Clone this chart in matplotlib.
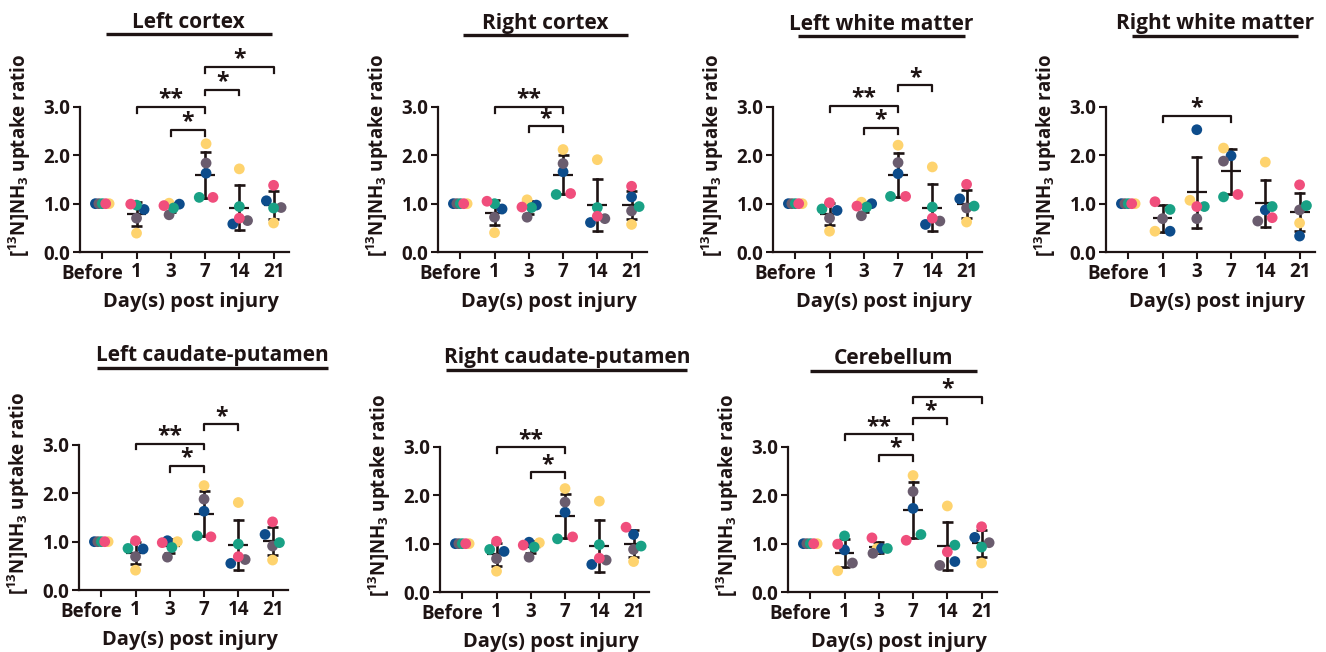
#!/usr/bin/env python3
"""
[13N]NH3 uptake ratio per brain region over days post injury (7 panels).
"""

import matplotlib

matplotlib.use('Agg')
import matplotlib.pyplot as plt
import matplotlib.transforms as mtransforms
import numpy as np

plt.rcParams['font.family'] = ['Open Sans', 'DejaVu Sans']
plt.rcParams['font.weight'] = 'bold'
plt.rcParams['mathtext.fontset'] = 'custom'
plt.rcParams['mathtext.rm'] = 'Open Sans:bold'
plt.rcParams['mathtext.bf'] = 'Open Sans:bold'
plt.rcParams['mathtext.it'] = 'Open Sans:bold'

INK = '#1e1414'

GROUPS = ["Before", "1", "3", "7", "14", "21"]
# one colour per animal: blue, teal, gray, pink, yellow
ANIMAL_COLORS = ["#0d4c8b", "#19a185", "#6a5c6e", "#f04e7c", "#fed36e"]
DRAW_ORDER = [4, 0, 2, 1, 3]

# values per time point, animals in the order blue, teal, gray, pink, yellow
left_cortex = [
    [1.0, 1.0, 1.0, 1.0, 1.0],
    [0.88, 0.97, 0.70, 0.99, 0.39],
    [0.99, 0.91, 0.77, 0.96, 1.01],
    [1.63, 1.13, 1.84, 1.13, 2.24],
    [0.58, 0.94, 0.65, 0.70, 1.72],
    [1.06, 0.91, 0.92, 1.38, 0.60],
]
right_cortex = [
    [1.0, 1.0, 1.0, 1.0, 1.0],
    [0.89, 1.00, 0.72, 1.05, 0.40],
    [0.97, 0.92, 0.72, 0.93, 1.08],
    [1.66, 1.19, 1.83, 1.21, 2.12],
    [0.61, 0.92, 0.69, 0.74, 1.91],
    [1.14, 0.94, 0.85, 1.36, 0.57],
]
left_white = [
    [1.0, 1.0, 1.0, 1.0, 1.0],
    [0.86, 0.89, 0.70, 1.02, 0.43],
    [1.00, 0.93, 0.75, 0.95, 1.03],
    [1.62, 1.15, 1.85, 1.15, 2.21],
    [0.57, 0.93, 0.64, 0.70, 1.76],
    [1.10, 0.95, 0.91, 1.40, 0.62],
]
right_white = [
    [1.0, 1.0, 1.0, 1.0, 1.0],
    [0.43, 0.88, 0.69, 1.04, 0.43],
    [2.53, 0.94, 0.69, 0.94, 1.07],
    [1.99, 1.14, 1.88, 1.19, 2.15],
    [0.87, 0.94, 0.64, 0.71, 1.86],
    [0.33, 0.96, 0.87, 1.39, 0.60],
]
left_caudate = [
    [1.0, 1.0, 1.0, 1.0, 1.0],
    [0.85, 0.86, 0.69, 1.02, 0.41],
    [1.02, 0.88, 0.68, 0.98, 1.00],
    [1.63, 1.12, 1.88, 1.10, 2.16],
    [0.55, 0.95, 0.63, 0.69, 1.81],
    [1.15, 0.98, 0.91, 1.41, 0.62],
]
right_caudate = [
    [1.0, 1.0, 1.0, 1.0, 1.0],
    [0.84, 0.88, 0.69, 1.05, 0.43],
    [1.03, 0.93, 0.72, 0.97, 1.02],
    [1.65, 1.10, 1.86, 1.14, 2.14],
    [0.57, 0.98, 0.66, 0.70, 1.88],
    [1.19, 0.95, 0.88, 1.34, 0.63],
]
cerebellum = [
    [1.0, 1.0, 1.0, 1.0, 1.0],
    [0.87, 1.16, 0.60, 0.99, 0.44],
    [0.90, 0.90, 0.80, 1.12, 0.90],
    [1.73, 1.19, 2.08, 1.07, 2.41],
    [0.63, 0.97, 0.55, 0.83, 1.78],
    [1.13, 0.93, 1.02, 1.35, 0.60],
]

# significance brackets: (group a, group b, label, height)
left_cortex_sig = [(1, 3, "**", 3.0), (2, 3, "*", 2.53), (3, 4, "*", 3.36), (3, 5, "*", 3.83)]
right_cortex_sig = [(1, 3, "**", 3.0), (2, 3, "*", 2.6)]
left_white_sig = [(1, 3, "**", 3.02), (2, 3, "*", 2.57), (3, 4, "*", 3.45)]
right_white_sig = [(1, 3, "*", 2.82)]
left_caudate_sig = [(1, 3, "**", 3.03), (2, 3, "*", 2.57), (3, 4, "*", 3.43)]
right_caudate_sig = [(1, 3, "**", 2.99), (2, 3, "*", 2.48)]
cerebellum_sig = [(1, 3, "**", 3.26), (2, 3, "*", 2.83), (3, 4, "*", 3.59), (3, 5, "*", 4.04)]

# horizontal scatter of each dot (in group widths), same animal order
BEFORE_JIT = [-0.2, 0.0, -0.1, 0.1, 0.2]
left_cortex_jit = [BEFORE_JIT,
                   [0.22, 0, 0, -0.17, 0],
                   [0.25, 0.08, -0.05, -0.2, -0.05],
                   [0.03, -0.17, 0.03, 0.23, 0.03],
                   [-0.19, 0, 0.24, 0, 0],
                   [-0.21, 0, 0.22, 0, 0]]
right_cortex_jit = [BEFORE_JIT,
                    [0.22, 0, 0, -0.22, 0],
                    [0.22, 0.08, -0.05, -0.2, -0.05],
                    [0, -0.2, 0, 0.22, 0],
                    [-0.2, 0, 0.22, 0, 0],
                    [0, 0.22, 0, 0, 0]]
left_white_jit = [BEFORE_JIT,
                  [0.22, -0.22, 0, 0, 0],
                  [0.23, 0.08, -0.07, -0.2, -0.07],
                  [0, -0.22, 0, 0.22, 0],
                  [-0.2, 0, 0.22, 0, 0],
                  [-0.2, 0.22, 0, 0, 0]]
right_white_jit = [BEFORE_JIT,
                   [0.22, 0.22, 0, -0.22, -0.22],
                   [0, 0.22, 0, 0, -0.2],
                   [0, -0.22, -0.22, 0.2, -0.22],
                   [0, 0.2, -0.22, 0.2, 0],
                   [0, 0.2, 0, 0, 0]]
left_caudate_jit = [BEFORE_JIT,
                    [0.22, -0.22, 0, 0, 0],
                    [-0.07, 0.06, -0.07, -0.22, 0.22],
                    [0, -0.2, 0, 0.2, 0],
                    [-0.22, 0, 0.2, 0, 0],
                    [-0.22, 0.2, 0, 0, 0]]
right_caudate_jit = [BEFORE_JIT,
                     [0.22, -0.2, 0, 0, 0],
                     [-0.05, 0.1, -0.05, -0.22, 0.25],
                     [0, -0.22, 0, 0.22, 0],
                     [-0.22, 0, 0.2, 0, 0],
                     [0, 0.22, 0, -0.22, 0]]
cerebellum_jit = [BEFORE_JIT,
                  [0, 0, 0.23, -0.2, -0.2],
                  [0.08, 0.25, -0.17, -0.2, -0.05],
                  [0, 0.23, 0, -0.2, 0],
                  [0.22, 0.22, -0.22, 0, 0],
                  [-0.2, 0, 0.22, 0, 0]]

# layout in pixels: axes left spine x, x-axis y (from top), title underline x-range in data units
PANELS = [
    ("Left cortex", left_cortex, left_cortex_jit, left_cortex_sig, 80, 252, (0.1, 4.95), 85),
    ("Right cortex", right_cortex, right_cortex_jit, right_cortex_sig, 438, 252, (0.08, 4.9), 84),
    ("Left white matter", left_white, left_white_jit, left_white_sig, 773, 252, (0.08, 4.95), 83),
    ("Right white matter", right_white, right_white_jit, right_white_sig, 1106, 252, (0.1, 4.95), 83),
    ("Left caudate-putamen", left_caudate, left_caudate_jit, left_caudate_sig, 79, 590, (-0.12, 6.63), 89),
    ("Right caudate-putamen", right_caudate, right_caudate_jit, right_caudate_sig, 440, 592, (-0.47, 6.57), 89),
    ("Cerebellum", cerebellum, cerebellum_jit, cerebellum_sig, 788, 592, (0.0, 4.88), 88),
]

FIG_W, FIG_H = 1326, 652
AX_W, AX_H = 209, 145
YLABEL = r"[$^{13}$N]NH$_{3}$ uptake ratio"
TICK_FS = 13.5


def draw_panel(fig, name, data, jit, sig, left_px, bottom_px, line_x, title_off):
    ax = fig.add_axes([left_px / FIG_W, 1 - bottom_px / FIG_H, AX_W / FIG_W, AX_H / FIG_H])
    vals = np.array(data)
    offs = np.array(jit)
    xs = np.arange(len(GROUPS))

    means = vals.mean(axis=1)
    sds = vals.std(axis=1, ddof=1)
    for x, m, s in zip(xs, means, sds):
        ax.plot([x - 0.29, x + 0.29], [m, m], color=INK, lw=1.6, zorder=2, solid_capstyle='butt')
        if s > 0:
            ax.plot([x, x], [m - s, m + s], color=INK, lw=1.9, zorder=2)
            for cy in (m - s, m + s):
                ax.plot([x - 0.16, x + 0.16], [cy, cy], color=INK, lw=1.9, zorder=2,
                        solid_capstyle='butt')

    for a in DRAW_ORDER:
        ax.scatter(xs + offs[:, a], vals[:, a], s=60, color=ANIMAL_COLORS[a],
                   edgecolors='none', zorder=3, clip_on=False)

    # significance brackets
    for g1, g2, label, h in sig:
        ax.plot([g1, g1, g2, g2], [h - 0.12, h, h, h - 0.12], color=INK, lw=1.6,
                clip_on=False, zorder=2)
        ax.text((g1 + g2) / 2, h + 0.03, label, ha='center', va='baseline',
                fontsize=16.5, fontweight='bold', color=INK)

    ax.set_xlim(-0.65, 5.45)
    ax.set_ylim(0, 3.0)
    ax.set_yticks([0, 1, 2, 3])
    ax.set_yticklabels(["0.0", "1.0", "2.0", "3.0"])
    ax.set_xticks(xs)
    # "Before" sits a little left of its tick, so it is drawn separately
    ax.set_xticklabels([""] + GROUPS[1:])
    ax.annotate(GROUPS[0], xy=(xs[0], 0), xycoords=('data', 'axes fraction'),
                xytext=(-7, -8.5), textcoords='offset points', ha='center', va='top',
                fontsize=TICK_FS, fontweight='bold', color=INK)

    for side in ('top', 'right'):
        ax.spines[side].set_visible(False)
    for side in ('left', 'bottom'):
        ax.spines[side].set_linewidth(1.6)
        ax.spines[side].set_color(INK)
    ax.tick_params(axis='both', direction='out', length=5, width=1.5, color=INK,
                   labelsize=TICK_FS, labelcolor=INK)
    ax.tick_params(axis='x', pad=2.5)
    ax.tick_params(axis='y', pad=2)

    ax.set_ylabel(YLABEL, fontsize=13.5, fontweight='bold', color=INK)
    ax.yaxis.set_label_coords(-0.225, 0.67)
    ax.set_xlabel("Day(s) post injury", fontsize=14.5, fontweight='bold', color=INK)
    ax.xaxis.set_label_coords(0.53, -0.275)

    # title with a bar underneath
    trans = mtransforms.blended_transform_factory(ax.transData, ax.transAxes)
    ly = 1 + (title_off - 12) / AX_H
    ax.plot(line_x, [ly, ly], color=INK, lw=2.4, transform=trans, clip_on=False,
            solid_capstyle='butt')
    ax.text(sum(line_x) / 2, 1 + title_off / AX_H, name, transform=trans, ha='center',
            va='center', fontsize=15, fontweight='bold', color=INK)
    return ax


def main():
    fig = plt.figure(figsize=(FIG_W / 100, FIG_H / 100), dpi=100)
    for panel in PANELS:
        draw_panel(fig, *panel)
    fig.savefig("out.png", dpi=100)


if __name__ == "__main__":
    main()
